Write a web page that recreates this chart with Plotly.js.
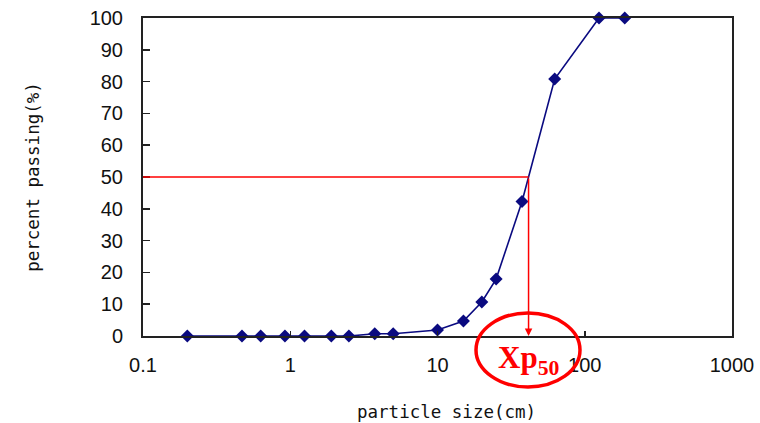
<!DOCTYPE html>
<html>
<head>
<meta charset="utf-8">
<script src="https://cdn.plot.ly/plotly-3.0.1.min.js"></script>
<style>
  html, body { margin: 0; padding: 0; background: #fff; }
  #chart { width: 760px; height: 423px; }
</style>
</head>
<body>
<div id="chart"></div>
<script>
// Cumulative grain-size distribution (sieve analysis)
const particleSize = [0.2, 0.47, 0.63, 0.92, 1.25, 1.9, 2.5, 3.75, 5, 10, 15, 20, 25, 37.5, 62.5, 125, 187];
const percentPassing = [0, 0, 0, 0, 0, 0, 0, 0.7, 0.7, 1.9, 4.7, 10.7, 17.9, 42.3, 80.8, 100, 100];

const xTickVals = [0.1, 1, 10, 100, 1000];
const xTickText = ['0.1', '1', '10', '100', '1000'];
const yTickVals = [0, 10, 20, 30, 40, 50, 60, 70, 80, 90, 100];

const xTitle = 'particle size(cm)';
const yTitle = 'percent passing(%)';
const targetPercent = 50;

// Xp50: log-linear interpolation on the curve where passing reaches 50 %
function sizeAtPercent(p) {
  for (let i = 1; i < percentPassing.length; i++) {
    const p0 = percentPassing[i - 1], p1 = percentPassing[i];
    if (p0 <= p && p1 >= p && p1 > p0) {
      const f = (p - p0) / (p1 - p0);
      const l0 = Math.log10(particleSize[i - 1]), l1 = Math.log10(particleSize[i]);
      return Math.pow(10, l0 + f * (l1 - l0));
    }
  }
  return null;
}
const xp50 = sizeAtPercent(targetPercent);

const tickFont = { family: 'Liberation Sans, Arial, sans-serif', size: 20, color: '#111' };
const titleFont = { family: 'DejaVu Sans Mono, monospace', size: 17.5, color: '#111' };
const red = '#ff0000';

const trace = {
  x: particleSize,
  y: percentPassing,
  type: 'scatter',
  mode: 'lines+markers',
  line: { color: '#0a0a80', width: 1.6 },
  marker: { symbol: 'diamond', size: 10, color: '#0a0a80' },
  cliponaxis: false,
  hoverinfo: 'x+y'
};

const layout = {
  width: 760,
  height: 423,
  margin: { l: 143, r: 28, t: 18, b: 87 },
  paper_bgcolor: '#fff',
  plot_bgcolor: '#fff',
  showlegend: false,
  xaxis: {
    type: 'log',
    range: [-1, 3],
    tickmode: 'array',
    tickvals: xTickVals,
    ticktext: xTickText,
    ticks: 'inside',
    ticklen: 5,
    tickwidth: 1.5,
    tickcolor: '#222',
    ticklabelstandoff: 10,
    showline: true,
    linecolor: '#222',
    linewidth: 2,
    mirror: true,
    showgrid: false,
    zeroline: false,
    tickfont: tickFont
  },
  yaxis: {
    range: [0, 100],
    tickmode: 'array',
    tickvals: yTickVals,
    ticks: 'inside',
    ticklen: 7,
    tickwidth: 1.5,
    tickcolor: '#222',
    ticklabelstandoff: 14,
    showline: true,
    linecolor: '#222',
    linewidth: 2,
    mirror: true,
    showgrid: false,
    zeroline: false,
    tickfont: tickFont,
    title: { text: yTitle, font: titleFont, standoff: 46 }
  },
  shapes: [
    // horizontal guide at 50 % passing
    {
      type: 'line', xref: 'x', yref: 'y',
      x0: 0.1, x1: xp50, y0: targetPercent, y1: targetPercent,
      line: { color: red, width: 1.5 }
    },
    // ellipse around the Xp50 label
    {
      type: 'circle', xref: 'paper', yref: 'paper',
      x0: (476 - 143) / 589, x1: (580 - 143) / 589,
      y0: (336 - 387) / 318, y1: (336 - 313) / 318,
      line: { color: red, width: 3.5 },
      fillcolor: 'rgba(0,0,0,0)'
    }
  ],
  annotations: [
    // vertical drop from the curve down to the size axis
    {
      xref: 'x', yref: 'y', axref: 'x', ayref: 'y',
      x: Math.log10(xp50), y: 0,
      ax: Math.log10(xp50), ay: targetPercent,
      showarrow: true, arrowhead: 2, arrowsize: 1, arrowwidth: 1.5,
      arrowcolor: red, text: ''
    },
    {
      xref: 'paper', yref: 'paper',
      x: (528 - 143) / 589, y: (336 - 360) / 318,
      xanchor: 'center', yanchor: 'middle',
      showarrow: false,
      text: '<b>Xp</b><sub><b>50</b></sub>',
      font: { family: 'Liberation Serif, Times New Roman, serif', size: 31, color: red }
    },
    // size-axis title
    {
      xref: 'paper', yref: 'paper',
      x: (446 - 143) / 589, y: (336 - 412) / 318,
      xanchor: 'center', yanchor: 'middle',
      showarrow: false,
      text: xTitle,
      font: titleFont
    }
  ]
};

Plotly.newPlot('chart', [trace], layout, { displayModeBar: false, staticPlot: true });
</script>
</body>
</html>
